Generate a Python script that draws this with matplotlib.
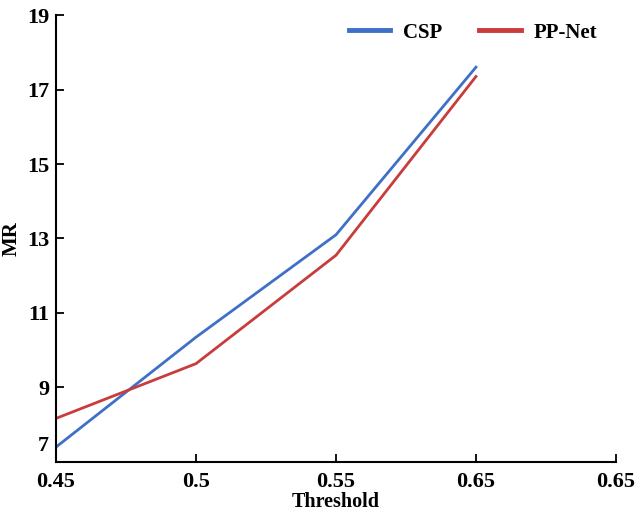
import matplotlib.pyplot as plt
import matplotlib.transforms as mtransforms
import numpy as np

thresholds = ['0.45', '0.5', '0.55', '0.65', '0.65']
csp = [7.4, 10.35, 13.1, 17.6]
ppnet = [8.17, 9.64, 12.55, 17.35]

plt.rcParams['font.family'] = 'Liberation Serif'
plt.rcParams['font.weight'] = 'bold'

fig = plt.figure(figsize=(6.42, 5.14), dpi=100)
ax = fig.add_axes([0.0872, 0.1012, 0.8723, 0.8696])

x = np.arange(len(csp))
ax.plot(x, csp, color='#3f70c8', lw=2.0, label='CSP')
ax.plot(x, ppnet, color='#c83c3c', lw=2.0, label='PP-Net')

ax.set_xlim(0, len(thresholds) - 1)
ax.set_ylim(7, 19)
ax.set_xticks(np.arange(len(thresholds)))
ax.set_xticklabels(thresholds)
ax.set_yticks(np.arange(7, 20, 2))

ax.spines['top'].set_visible(False)
ax.spines['right'].set_visible(False)
for s in ['left', 'bottom']:
    ax.spines[s].set_linewidth(1.5)
ax.tick_params(direction='in', length=6, width=1.3, labelsize=16)
ax.tick_params(axis='x', pad=7)
ax.tick_params(axis='y', pad=5)

# the bottom "7" sits a little above the corner, clear of "0.45"
lab7 = ax.get_yticklabels()[0]
lab7.set_va('bottom')
lab7.set_transform(lab7.get_transform() +
                   mtransforms.ScaledTranslation(0, 4 / 72, fig.dpi_scale_trans))

ax.set_xlabel('Threshold', fontsize=14.5, fontweight='bold', labelpad=0)
ax.set_ylabel('MR', fontsize=15, fontweight='bold', labelpad=4)

leg = ax.legend(loc='upper right', bbox_to_anchor=(1.0, 1.025), ncol=2, frameon=False,
                fontsize=15, handlelength=2.0, handletextpad=0.6, columnspacing=1.8)
for h in leg.get_lines():
    h.set_linewidth(3.5)

fig.savefig('out.png', dpi=100)
